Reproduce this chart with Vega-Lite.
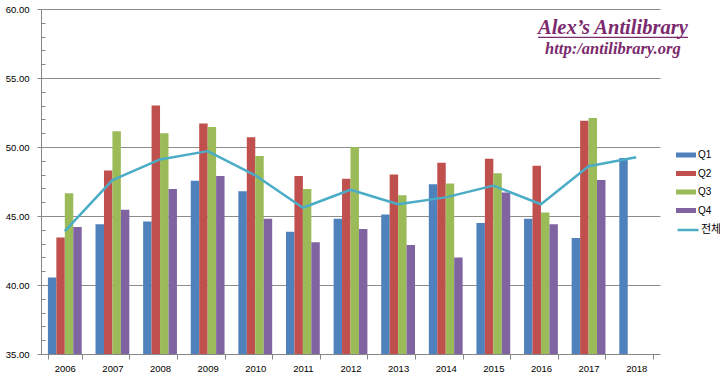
{
  "$schema": "https://vega.github.io/schema/vega-lite/v6.json",
  "width": 619,
  "height": 345,
  "autosize": {"type": "none"},
  "padding": {"left": 41, "top": 9, "right": 60, "bottom": 22},
  "background": "white",
  "config": {
    "view": {"stroke": null},
    "axis": {"labelFont": "Liberation Sans", "labelFontSize": 9.5, "labelColor": "#000000", "domainColor": "#868686", "tickColor": "#868686", "gridColor": "#8c8c8c"},
    "legend": {"labelFont": "Liberation Sans", "labelFontSize": 10, "labelColor": "#000000", "padding": 0}
  },
  "layer": [
    {
      "layer": [
        {
          "data": {"values": [
            {"year": "2006", "q": "Q1", "value": 40.55}, {"year": "2006", "q": "Q2", "value": 43.45}, {"year": "2006", "q": "Q3", "value": 46.65}, {"year": "2006", "q": "Q4", "value": 44.2},
            {"year": "2007", "q": "Q1", "value": 44.4}, {"year": "2007", "q": "Q2", "value": 48.3}, {"year": "2007", "q": "Q3", "value": 51.15}, {"year": "2007", "q": "Q4", "value": 45.45},
            {"year": "2008", "q": "Q1", "value": 44.6}, {"year": "2008", "q": "Q2", "value": 53.0}, {"year": "2008", "q": "Q3", "value": 51.0}, {"year": "2008", "q": "Q4", "value": 46.95},
            {"year": "2009", "q": "Q1", "value": 47.55}, {"year": "2009", "q": "Q2", "value": 51.7}, {"year": "2009", "q": "Q3", "value": 51.45}, {"year": "2009", "q": "Q4", "value": 47.9},
            {"year": "2010", "q": "Q1", "value": 46.8}, {"year": "2010", "q": "Q2", "value": 50.7}, {"year": "2010", "q": "Q3", "value": 49.35}, {"year": "2010", "q": "Q4", "value": 44.8},
            {"year": "2011", "q": "Q1", "value": 43.85}, {"year": "2011", "q": "Q2", "value": 47.9}, {"year": "2011", "q": "Q3", "value": 46.95}, {"year": "2011", "q": "Q4", "value": 43.1},
            {"year": "2012", "q": "Q1", "value": 44.8}, {"year": "2012", "q": "Q2", "value": 47.7}, {"year": "2012", "q": "Q3", "value": 50.0}, {"year": "2012", "q": "Q4", "value": 44.05},
            {"year": "2013", "q": "Q1", "value": 45.1}, {"year": "2013", "q": "Q2", "value": 48.0}, {"year": "2013", "q": "Q3", "value": 46.5}, {"year": "2013", "q": "Q4", "value": 42.9},
            {"year": "2014", "q": "Q1", "value": 47.3}, {"year": "2014", "q": "Q2", "value": 48.85}, {"year": "2014", "q": "Q3", "value": 47.35}, {"year": "2014", "q": "Q4", "value": 42.0},
            {"year": "2015", "q": "Q1", "value": 44.5}, {"year": "2015", "q": "Q2", "value": 49.15}, {"year": "2015", "q": "Q3", "value": 48.1}, {"year": "2015", "q": "Q4", "value": 46.7},
            {"year": "2016", "q": "Q1", "value": 44.8}, {"year": "2016", "q": "Q2", "value": 48.65}, {"year": "2016", "q": "Q3", "value": 45.25}, {"year": "2016", "q": "Q4", "value": 44.4},
            {"year": "2017", "q": "Q1", "value": 43.4}, {"year": "2017", "q": "Q2", "value": 51.9}, {"year": "2017", "q": "Q3", "value": 52.1}, {"year": "2017", "q": "Q4", "value": 47.6},
            {"year": "2018", "q": "Q1", "value": 49.2}
          ]},
          "mark": {"type": "bar"},
          "encoding": {
            "x": {
              "field": "year", "type": "nominal",
              "scale": {"domain": ["2006","2007","2008","2009","2010","2011","2012","2013","2014","2015","2016","2017","2018"], "paddingInner": 0.29, "paddingOuter": 0.145},
              "axis": {"title": null, "labelAngle": 0, "tickBand": "extent", "tickSize": 5, "labelPadding": 4, "domainColor": "#868686"}
            },
            "xOffset": {"field": "q", "type": "nominal", "scale": {"domain": ["Q1","Q2","Q3","Q4"], "paddingInner": 0, "paddingOuter": 0}},
            "y": {
              "field": "value", "type": "quantitative",
              "scale": {"domain": [35, 60], "nice": false, "zero": false},
              "axis": {
                "title": null,
                "values": [35,36,37,38,39,40,41,42,43,44,45,46,47,48,49,50,51,52,53,54,55,56,57,58,59,60],
                "tickCount": 40,
                "labelExpr": "datum.value % 5 === 0 ? format(datum.value, '.2f') : ''",
                "labelOverlap": false,
                "labelBound": false,
                "labelFlush": false,
                "grid": true,
                "gridOpacity": {"condition": {"test": "datum.value % 5 === 0 && datum.value > 35", "value": 1}, "value": 0},
                "tickSize": {"condition": {"test": "datum.value % 5 === 0", "value": 4}, "value": -4},
                "labelPadding": 8,
                "domainColor": "#868686"
              }
            },
            "y2": {"datum": 35},
            "color": {
              "field": "q", "type": "nominal",
              "scale": {"domain": ["Q1","Q2","Q3","Q4"], "range": ["#4f81bd","#c0504d","#9bbb59","#8064a2"]},
              "legend": {"title": null, "orient": "none", "legendX": 635, "legendY": 136, "symbolType": "M-1,-0.25H1V0.25H-1Z", "symbolSize": 400, "symbolStrokeWidth": 0, "labelOffset": 2, "rowPadding": 3.5}
            }
          }
        },
        {
          "data": {"values": [
            {"year": "2006", "series": "전체", "value": 43.9},
            {"year": "2007", "series": "전체", "value": 47.6},
            {"year": "2008", "series": "전체", "value": 49.1},
            {"year": "2009", "series": "전체", "value": 49.7},
            {"year": "2010", "series": "전체", "value": 47.95},
            {"year": "2011", "series": "전체", "value": 45.6},
            {"year": "2012", "series": "전체", "value": 46.9},
            {"year": "2013", "series": "전체", "value": 45.85},
            {"year": "2014", "series": "전체", "value": 46.35},
            {"year": "2015", "series": "전체", "value": 47.2},
            {"year": "2016", "series": "전체", "value": 45.85},
            {"year": "2017", "series": "전체", "value": 48.6},
            {"year": "2018", "series": "전체", "value": 49.25}
          ]},
          "mark": {"type": "line", "strokeWidth": 2.5, "strokeJoin": "round"},
          "encoding": {
            "x": {"field": "year", "type": "nominal"},
            "y": {"field": "value", "type": "quantitative"},
            "stroke": {
              "field": "series", "type": "nominal",
              "scale": {"domain": ["전체"], "range": ["#4bacc6"]},
              "legend": {"title": null, "orient": "none", "legendX": 635, "legendY": 209, "symbolType": "stroke", "symbolSize": 441, "symbolStrokeWidth": 2.5, "labelOffset": 1, "labelFont": "Noto Sans CJK KR", "labelFontSize": 11}
            }
          }
        }
      ]
    },
    {
      "layer": [
        {
          "data": {"values": [{"label": "Alex’s Antilibrary", "pos": 12.01, "value": 58.22}]},
          "mark": {"type": "text", "font": "Liberation Serif", "fontStyle": "italic", "fontWeight": "bold", "fontSize": 20.5, "color": "#7b2a6d", "align": "center", "baseline": "alphabetic"},
          "encoding": {
            "x": {"field": "pos", "type": "quantitative", "scale": {"domain": [0, 13], "nice": false, "zero": false}, "axis": null},
            "y": {"field": "value", "type": "quantitative"},
            "text": {"field": "label"}
          }
        },
        {
          "data": {"values": [{"label": "http:/antilibrary.org", "pos": 12.01, "value": 56.72}]},
          "mark": {"type": "text", "font": "Liberation Serif", "fontStyle": "italic", "fontWeight": "bold", "fontSize": 16.5, "color": "#7b2a6d", "align": "center", "baseline": "alphabetic"},
          "encoding": {
            "x": {"field": "pos", "type": "quantitative"},
            "y": {"field": "value", "type": "quantitative"},
            "text": {"field": "label"}
          }
        },
        {
          "data": {"values": [{"start": 10.44, "end": 13.59, "value": 57.95}]},
          "mark": {"type": "rule", "color": "#7b2a6d", "strokeWidth": 1.3},
          "encoding": {
            "x": {"field": "start", "type": "quantitative"},
            "x2": {"field": "end"},
            "y": {"field": "value", "type": "quantitative"}
          }
        }
      ]
    }
  ],
  "resolve": {"scale": {"x": "independent"}}
}
